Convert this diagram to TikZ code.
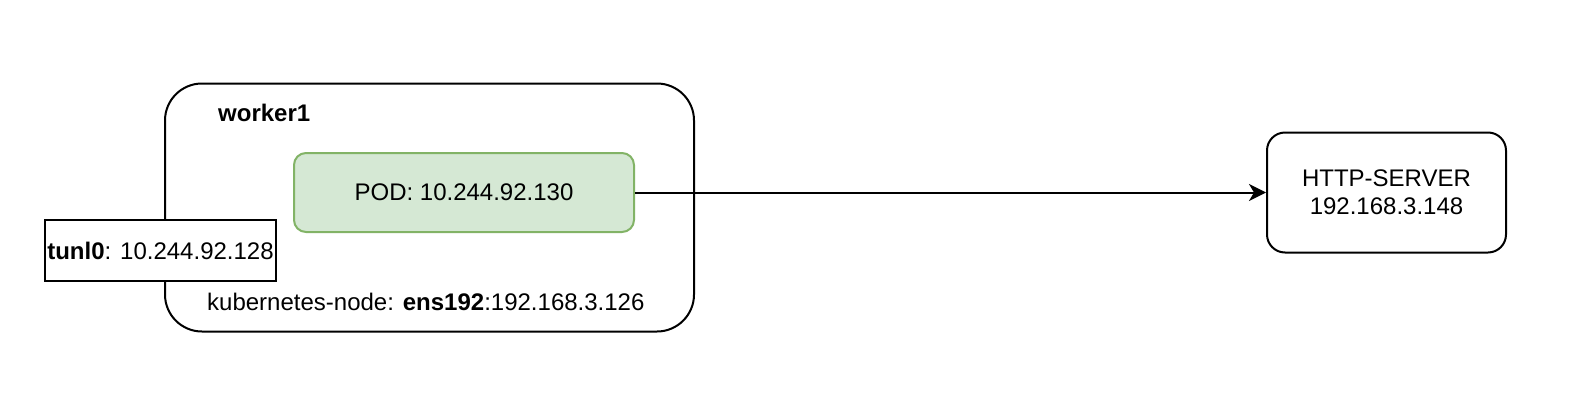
\documentclass[tikz,border=0pt]{standalone}
\usepackage{fontspec}
\setmainfont{Liberation Sans}
\usetikzlibrary{arrows.meta,positioning}

\definecolor{podfill}{HTML}{D5E8D4}
\definecolor{podline}{HTML}{82B366}

\tikzset{
  box/.style={draw, line width=2pt, inner sep=0pt, align=center},
  label text/.style={inner sep=0pt, anchor=west},
}

\begin{document}
\begin{tikzpicture}[>=Stealth, x=1pt, y=-1pt, font=\fontsize{24}{28}\selectfont]
			
			\useasboundingbox (0,0) rectangle (1572,410);
			
			\node[box, rounded corners=37pt, minimum width=529pt, minimum height=248pt]
			(worker) at (429.5,207.5) {};
			\node[label text, font=\fontsize{24}{28}\selectfont\bfseries] (wname) at (218,113) {worker1};
			\node[label text] (knode) at (207,302) {kubernetes-node: \textbf{ens192}:192.168.3.126};
			
			\node[box, draw=podline, fill=podfill, rounded corners=12pt,
			minimum width=340pt, minimum height=79pt] (pod) at (464,192.5) {POD: 10.244.92.130};
			
			\node[box, fill=white, minimum width=231pt, minimum height=61pt]
			(tunl) at (160.5,250.5) {\textbf{tunl0}: 10.244.92.128};
			
			\node[box, rounded corners=18pt, minimum width=239pt, minimum height=120pt]
			(http) at (1386.5,192.5) {HTTP-SERVER\\192.168.3.148};
			
			\draw[line width=2pt, arrows={-Stealth[length=17pt, width=17pt, inset=5pt]}]
			(pod.east) -- (http.west);
			
\end{tikzpicture}
\end{document}
